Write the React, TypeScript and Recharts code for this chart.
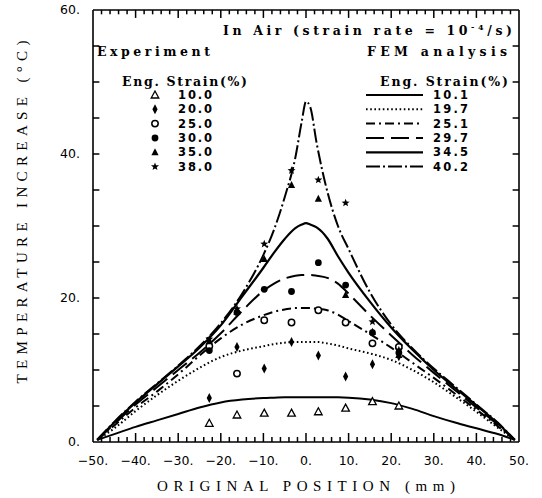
import React from "react";
import { ComposedChart, Line, Scatter, XAxis, YAxis, ReferenceLine } from "recharts";

// FEM analysis curves (temperature increase, deg C) sampled along the gauge length (mm)
const femX = [-49, -45, -40, -35, -30, -25, -20, -15, -10, -7.5, -5, -2.5, -1, 0, 1, 2.5, 5, 7.5, 10, 15, 20, 25, 30, 35, 40, 45, 49];
const fem101 = [0.3, 1.1, 2.1, 3.0, 3.9, 4.8, 5.5, 5.9, 6.1, 6.15, 6.2, 6.2, 6.2, 6.2, 6.2, 6.2, 6.2, 6.2, 6.15, 5.9, 5.4, 4.6, 3.6, 2.7, 1.9, 1.1, 0.3];
const fem197 = [0.3, 1.9, 4.3, 6.5, 8.5, 10.3, 11.8, 12.7, 13.3, 13.6, 13.8, 13.9, 13.9, 13.9, 13.9, 13.9, 13.7, 13.4, 13.0, 12.3, 11.4, 10.0, 8.3, 6.3, 4.2, 2.0, 0.3];
const fem251 = [0.3, 2.3, 4.8, 7.0, 9.4, 12.0, 14.4, 16.3, 17.6, 18.1, 18.4, 18.6, 18.6, 18.6, 18.6, 18.5, 18.3, 17.7, 16.8, 15.0, 13.1, 11.0, 8.9, 6.7, 4.5, 2.2, 0.3];
const fem297 = [0.3, 2.5, 5.2, 7.6, 10.0, 12.4, 15.1, 18.2, 21.0, 22.0, 22.7, 23.1, 23.2, 23.2, 23.2, 23.1, 22.8, 22.0, 20.6, 17.6, 14.8, 12.1, 9.6, 7.2, 4.8, 2.4, 0.3];
const fem345 = [0.3, 2.7, 5.5, 8.0, 10.5, 13.1, 16.2, 20.2, 24.2, 26.3, 28.2, 29.7, 30.2, 30.4, 30.2, 29.8, 28.3, 25.8, 23.5, 19.5, 15.9, 12.8, 10.0, 7.5, 5.1, 2.6, 0.3];
const fem402 = [0.3, 2.8, 5.6, 8.1, 10.6, 13.3, 16.5, 20.6, 26.0, 29.5, 34.0, 39.5, 44.5, 47.3, 46.5, 41.5, 34.8, 30.0, 26.8, 20.8, 16.3, 13.0, 10.2, 7.7, 5.2, 2.7, 0.3];
const femLabels = ["10.1", "19.7", "25.1", "29.7", "34.5", "40.2"];

// Experiment (thermocouple positions)
const expX = [-22.7, -16.2, -9.8, -3.4, 2.9, 9.3, 15.6, 21.8];
const exp100 = [2.6, 3.75, 4.0, 4.0, 4.2, 4.7, 5.6, 5.0];
const exp200 = [6.1, 13.2, 10.2, 13.9, 12.0, 9.1, 10.8, 11.9];
const exp250 = [13.3, 9.5, 16.9, 16.6, 18.3, 16.6, 13.7, 13.2];
const exp300 = [12.7, 18.0, 21.2, 20.9, 24.9, 21.8, 15.2, 12.4];
const exp350 = [14.0, 18.1, 25.4, 35.7, 33.8, 20.4, 15.3, 12.1];
const exp380 = [14.3, 18.5, 27.5, 37.7, 36.4, 33.2, 16.7, 12.8];
const expLabels = ["10.0", "20.0", "25.0", "30.0", "35.0", "38.0"];

const xTicks = [-50, -40, -30, -20, -10, 0, 10, 20, 30, 40, 50];
const yTicks = [0, 20, 40, 60];
// small inward frame marks: every 2 mm along x, every 5 C along y
const xMarks = Array.from({ length: 49 }, (_, i) => -48 + i * 2);
const yMarks = Array.from({ length: 11 }, (_, i) => 5 + i * 5);

const pts = (xs: number[], ys: number[]) => xs.map((x, i) => ({ x, y: ys[i] }));

const femSeries = [fem101, fem197, fem251, fem297, fem345, fem402].map((ys) => pts(femX, ys));
const expSeries = [exp100, exp200, exp250, exp300, exp350, exp380].map((ys) => pts(expX, ys));

const DASHES = [undefined, "1.6 2.6", "9 4 2 4", "18 7", undefined, "14 3 2 3"];
const WIDTHS = [2, 2, 2, 2, 2.2, 2];

const OpenTriangle = ({ cx, cy }: any) => (
  <polygon points={`${cx},${cy - 4} ${cx - 3.8},${cy + 3} ${cx + 3.8},${cy + 3}`} fill="#fff" stroke="#000" strokeWidth={1.3} />
);
const Diamond = ({ cx, cy }: any) => (
  <polygon points={`${cx},${cy - 5} ${cx + 2.6},${cy} ${cx},${cy + 5} ${cx - 2.6},${cy}`} fill="#000" />
);
const OpenCircle = ({ cx, cy }: any) => <circle cx={cx} cy={cy} r={3.2} fill="#fff" stroke="#000" strokeWidth={1.5} />;
const FilledCircle = ({ cx, cy }: any) => <circle cx={cx} cy={cy} r={3.4} fill="#000" />;
const FilledTriangle = ({ cx, cy }: any) => (
  <polygon points={`${cx},${cy - 4} ${cx - 3.6},${cy + 3} ${cx + 3.6},${cy + 3}`} fill="#000" />
);
const Star = ({ cx, cy }: any) => {
  let d = "";
  for (let k = 0; k < 10; k++) {
    const r = k % 2 === 0 ? 4.2 : 1.8;
    const a = -Math.PI / 2 + (k * Math.PI) / 5;
    d += (k ? "L" : "M") + (cx + r * Math.cos(a)).toFixed(2) + "," + (cy + r * Math.sin(a)).toFixed(2);
  }
  return <path d={d + "Z"} fill="#000" />;
};
const SHAPES = [OpenTriangle, Diamond, OpenCircle, FilledCircle, FilledTriangle, Star];

const fmt = (v: number) => `${v < 0 ? "\u2212" : ""}${Math.abs(v)}.`;
const isMajorX = (v: number) => Math.abs(v % 10) < 1e-6;
const frameStroke = { stroke: "#000", strokeWidth: 1.6 };
const labelFont = { fontSize: 12.5, fontFamily: "DejaVu Sans", fill: "#000" };
const markProps = { xAxisId: "b", yAxisId: "l", stroke: "#000", strokeWidth: 1.5, ifOverflow: "visible" as const };

const headFont = { fontFamily: "DejaVu Serif", fontWeight: "bold" as const, fontSize: 12.5 };
const numFont = { fontFamily: "DejaVu Sans", fontWeight: "bold" as const, fontSize: 11.5 };
const rowY = [99, 113.3, 127.6, 142, 156.3, 170.6];

const axX = { type: "number" as const, dataKey: "x", domain: [-50, 50], interval: 0 as const, allowDataOverflow: true, axisLine: frameStroke };
const axY = { type: "number" as const, dataKey: "y", domain: [0, 60], interval: 0 as const, allowDataOverflow: true, axisLine: frameStroke };

export default function App() {
  return (
    <div style={{ position: "absolute", left: 0, top: 0, width: 542, height: 498, background: "#fff" }}>
      <ComposedChart width={542} height={498} margin={{ top: 0, right: 0, bottom: 26, left: 33 }}>
        <XAxis xAxisId="b" {...axX} ticks={xTicks} height={30} tickLine={false} tickSize={6} tickMargin={8}
          tickFormatter={fmt} tick={labelFont} />
        <XAxis xAxisId="t" orientation="top" {...axX} ticks={xTicks} height={10} tick={false} tickLine={false} />
        <YAxis yAxisId="l" {...axY} ticks={yTicks} width={60} tickLine={false} tickSize={6} tickMargin={7}
          tickFormatter={fmt} tick={labelFont} />
        <YAxis yAxisId="r" orientation="right" {...axY} ticks={yTicks} width={23} tick={false} tickLine={false} />
        <Line data={femSeries[0]} dataKey="y" xAxisId="t" yAxisId="r" stroke="none" dot={false} activeDot={false} isAnimationActive={false} />
        {xMarks.map((v) => (
          <ReferenceLine key={`b${v}`} {...markProps} segment={[{ x: v, y: 0 }, { x: v, y: isMajorX(v) ? 1.25 : 0.7 }]} />
        ))}
        {xMarks.map((v) => (
          <ReferenceLine key={`t${v}`} {...markProps} segment={[{ x: v, y: 60 }, { x: v, y: isMajorX(v) ? 58.9 : 59.4 }]} />
        ))}
        {yMarks.map((v) => (
          <ReferenceLine key={`l${v}`} {...markProps} segment={[{ x: -50, y: v }, { x: -48.5, y: v }]} />
        ))}
        {yMarks.map((v) => (
          <ReferenceLine key={`r${v}`} {...markProps} segment={[{ x: 50, y: v }, { x: 48.5, y: v }]} />
        ))}
        {femSeries.map((data, i) => (
          <Line
            key={femLabels[i]}
            data={data}
            dataKey="y"
            xAxisId="b"
            yAxisId="l"
            type="monotone"
            stroke="#000"
            strokeWidth={WIDTHS[i]}
            strokeDasharray={DASHES[i]}
            dot={false}
            activeDot={false}
            isAnimationActive={false}
          />
        ))}
        {expSeries.map((data, i) => (
          <Scatter key={expLabels[i]} data={data} xAxisId="b" yAxisId="l" shape={SHAPES[i]} isAnimationActive={false} />
        ))}
      </ComposedChart>
      <svg width={542} height={498} style={{ position: "absolute", left: 0, top: 0, pointerEvents: "none" }}>
        <text x={223} y={35} {...headFont} textLength={289} lengthAdjust="spacing">
          In Air (strain rate = 10<tspan dy={-5} fontSize={8}>-4</tspan>
          <tspan dy={5}>/s)</tspan>
        </text>
        <text x={97} y={56} {...headFont} textLength={113} lengthAdjust="spacing">Experiment</text>
        <text x={367} y={56} {...headFont} textLength={140} lengthAdjust="spacing">FEM analysis</text>
        <text x={122} y={86} {...headFont} textLength={125} lengthAdjust="spacing">Eng. Strain(%)</text>
        <text x={380} y={86} {...headFont} textLength={128} lengthAdjust="spacing">Eng. Strain(%)</text>
        {expLabels.map((lab, i) => {
          const Shape = SHAPES[i];
          return (
            <g key={lab}>
              <Shape cx={155} cy={rowY[i] - 4} />
              <text x={178} y={rowY[i]} {...numFont} textLength={34} lengthAdjust="spacing">{lab}</text>
            </g>
          );
        })}
        {femLabels.map((lab, i) => (
          <g key={lab}>
            <line x1={366} x2={423} y1={rowY[i] - 4} y2={rowY[i] - 4} stroke="#000" strokeWidth={WIDTHS[i]} strokeDasharray={DASHES[i]} />
            <text x={433} y={rowY[i]} {...numFont} textLength={35} lengthAdjust="spacing">{lab}</text>
          </g>
        ))}
        <text x={306} y={491} textAnchor="middle" fontFamily="Liberation Serif" fontSize={15} textLength={298} lengthAdjust="spacing">
          ORIGINAL POSITION (mm)
        </text>
        <text transform="translate(27,212) rotate(-90)" textAnchor="middle" fontFamily="Liberation Serif" fontSize={15} textLength={343} lengthAdjust="spacing">
          TEMPERATURE INCREASE (°C)
        </text>
      </svg>
    </div>
  );
}
